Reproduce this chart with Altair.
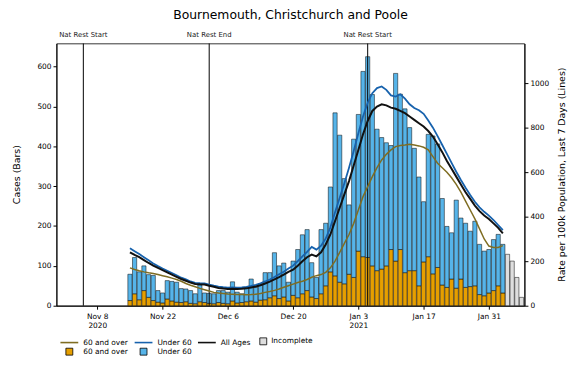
import altair as alt
import pandas as pd

# ---------------- data ----------------
FIRST_DAY = "2020-11-15"  # first bar; one value per day afterwards

CASES_TOTAL = [
    79, 121, 85, 100, 78, 76, 38, 32, 63, 61, 59, 43, 42, 38, 30, 52,          # Nov 15-30
    32, 31, 30, 38, 38, 34, 60, 34, 30, 46, 67, 46, 55, 83, 83, 133, 100, 107,  # Dec 1-18
    59, 112, 141, 178, 191, 108, 71, 191, 207, 298, 484, 428, 319,              # Dec 19-31
    253, 418, 480, 588, 625, 530, 443, 422, 409, 402, 583, 531, 494, 447, 395,  # Jan 1-15
    323, 261, 430, 426, 406, 269, 199, 183, 265, 220, 207, 187, 212, 154, 137,  # Jan 16-30
    141, 166, 179, 154,                                                          # Jan 31 - Feb 3
]
CASES_60_PLUS = [
    13, 30, 15, 38, 21, 13, 9, 7, 17, 12, 9, 8, 10, 6, 5, 10,
    8, 6, 5, 8, 6, 5, 12, 7, 8, 10, 12, 9, 14, 15, 20, 25, 18, 22,
    12, 26, 20, 30, 38, 22, 18, 30, 50, 85, 75, 59, 55,
    79, 71, 137, 123, 121, 100, 88, 92, 100, 141, 112, 141, 83, 88, 88,
    50, 110, 123, 80, 96, 52, 46, 67, 44, 67, 46, 48, 50, 28, 25,
    32, 38, 50, 32,
]
INCOMPLETE_DATES = ["2021-02-04", "2021-02-05", "2021-02-06", "2021-02-07"]
INCOMPLETE_CASES = [129, 112, 71, 21]

RATE_ALL = [
    240, 228, 218, 205, 192, 180, 170, 160, 150, 140, 130, 120, 112, 104, 98, 96,
    95, 90, 85, 80, 77, 75, 76, 75, 76, 78, 82, 86, 92, 100, 108, 118, 128, 140,
    152, 162, 180, 200, 218, 230, 222, 240, 275, 320, 380, 440, 500,
    560, 630, 700, 770, 830, 875, 895, 905, 900, 890, 885, 875, 865, 850, 835,
    820, 805, 785, 760, 725, 690, 650, 615, 580, 545, 510, 480, 450, 425, 405,
    390, 370, 350, 325,
]
RATE_UNDER_60 = [
    258, 245, 232, 218, 204, 190, 178, 167, 157, 147, 137, 126, 118, 109, 103, 101,
    100, 95, 90, 86, 83, 81, 82, 81, 82, 85, 89, 94, 101, 109, 118, 129, 141, 153,
    167, 180, 200, 222, 242, 264, 252, 270, 302, 352, 420, 485, 550,
    620, 695, 775, 850, 912, 955, 978, 985, 970, 945, 940, 950, 930, 905, 888,
    878, 862, 832, 800, 762, 722, 682, 642, 602, 565, 530, 497, 467, 442, 422,
    405, 385, 362, 340,
]
RATE_60_PLUS = [
    170, 163, 157, 152, 148, 145, 140, 135, 130, 124, 118, 110, 100, 92, 85, 78,
    72, 66, 60, 57, 55, 53, 52, 50, 50, 49, 50, 52, 55, 60, 64, 69, 75, 83,
    90, 97, 104, 110, 118, 128, 135, 140, 150, 170, 200, 240, 280,
    320, 370, 430, 490, 535, 580, 620, 655, 680, 700, 715, 720, 722, 725, 722,
    718, 712, 700, 670, 640, 620, 600, 575, 545, 510, 470, 430, 390, 345, 300,
    268, 262, 262, 270,
]

EVENT_DATES = ["2020-11-05", "2020-12-02", "2021-01-05"]
EVENT_LABELS = ["Nat Rest Start", "Nat Rest End", "Nat Rest Start"]
TICK_DATES = ["2020-11-08", "2020-11-22", "2020-12-06", "2020-12-20",
              "2021-01-03", "2021-01-17", "2021-01-31"]

# ---------------- helpers ----------------
def ms(s):
    return int(pd.Timestamp(s, tz="UTC").value // 10**6)

days = pd.date_range(FIRST_DAY, periods=len(CASES_TOTAL), freq="D").strftime("%Y-%m-%d").tolist()

bars_df = pd.DataFrame({"t": [ms(d) for d in days], "total": CASES_TOTAL, "over60": CASES_60_PLUS})
inc_df = pd.DataFrame({"t": [ms(d) for d in INCOMPLETE_DATES], "total": INCOMPLETE_CASES})
lines_df = pd.DataFrame({"t": [ms(d) for d in days], "all": RATE_ALL,
                         "under": RATE_UNDER_60, "over": RATE_60_PLUS})
events_df = pd.DataFrame({"t": [ms(d) for d in EVENT_DATES], "label": EVENT_LABELS})

FONT = "DejaVu Sans"
ORANGE = "#E69F00"
SKY = "#56B4E9"
HALF_BAR = 0.45 * 86400000

X_DOMAIN = [ms("2020-10-30 05:45"), ms("2021-02-07 15:20")]
xscale = alt.Scale(type="utc", domain=X_DOMAIN, nice=False)
label_expr = (
    "(utcFormat(datum.value, '%m-%d') == '11-08' || utcFormat(datum.value, '%m-%d') == '01-03')"
    " ? [utcFormat(datum.value, '%b %-d'), utcFormat(datum.value, '%Y')]"
    " : utcFormat(datum.value, '%b %-d')"
)
xaxis = alt.Axis(values=[ms(d) for d in TICK_DATES], labelExpr=label_expr, title=None,
                 tickSize=3.5, labelFontSize=7.5, labelPadding=3, grid=False,
                 labelOverlap=False, labelFlush=False, domainColor="black", tickColor="black")

yscale_left = alt.Scale(domain=[0, 658], nice=False, zero=True)
yscale_right = alt.Scale(domain=[0, 1178], nice=False, zero=True)
yaxis_left = alt.Axis(values=[0, 100, 200, 300, 400, 500, 600], title="Cases (Bars)", format="d",
                      tickSize=3.5, labelFontSize=7.5, labelPadding=2, grid=False,
                      titleFontSize=9.5, titleFontWeight="normal", titleX=-40, titleY=132,
                      titleAngle=270, titleAlign="center", titleBaseline="middle",
                      domainColor="black", tickColor="black")
yaxis_right = alt.Axis(orient="right", values=[0, 200, 400, 600, 800, 1000], format="d",
                       title="Rate per 100k Population, Last 7 Days (Lines)",
                       tickSize=3.5, labelFontSize=7.5, labelPadding=2, grid=False,
                       titleFontSize=9.5, titleFontWeight="normal", titleX=37, titleY=132,
                       titleAngle=270, titleAlign="center", titleBaseline="middle",
                       domainColor="black", tickColor="black")

bar_fill_scale = alt.Scale(domain=["60 and over", "Under 60"], range=[ORANGE, SKY])
bar_legend = alt.Legend(title=None, orient="none", legendX=9, legendY=307, direction="horizontal",
                        columns=2, symbolType="square", symbolSize=49, symbolStrokeColor="black",
                        symbolStrokeWidth=0.8, labelFontSize=7.5, labelOffset=10, columnPadding=9,
                        labelFont=FONT)

bar_base = alt.Chart(bars_df).transform_calculate(
    x0=f"datum.t - {HALF_BAR}", x1=f"datum.t + {HALF_BAR}", zero="0"
)
orange_bars = bar_base.transform_calculate(cat="'60 and over'").mark_bar(
    stroke="black", strokeWidth=0.5
).encode(
    x=alt.X("x0:T", scale=xscale, axis=xaxis),
    x2="x1:T",
    y=alt.Y("over60:Q", scale=yscale_left, axis=yaxis_left, stack=None),
    y2="zero:Q",
    fill=alt.Fill("cat:N", scale=bar_fill_scale, legend=bar_legend),
)
blue_bars = bar_base.transform_calculate(cat="'Under 60'").mark_bar(
    stroke="black", strokeWidth=0.5
).encode(
    x=alt.X("x0:T", scale=xscale, axis=xaxis),
    x2="x1:T",
    y=alt.Y("total:Q", scale=yscale_left, axis=yaxis_left, stack=None),
    y2="over60:Q",
    fill=alt.Fill("cat:N", scale=bar_fill_scale, legend=bar_legend),
)
bars = alt.layer(orange_bars, blue_bars)

inc_bars = alt.Chart(inc_df).transform_calculate(
    x0=f"datum.t - {HALF_BAR}", x1=f"datum.t + {HALF_BAR}", cat="'Incomplete'", zero="0"
).mark_bar(stroke="black", strokeWidth=0.5).encode(
    x=alt.X("x0:T", scale=xscale, axis=xaxis),
    x2="x1:T",
    y=alt.Y("total:Q", scale=yscale_left, axis=None, stack=None),
    y2="zero:Q",
    fill=alt.Fill("cat:N", scale=alt.Scale(domain=["Incomplete"], range=["#dedede"]),
                  legend=alt.Legend(title=None, orient="none", legendX=205, legendY=297,
                                    symbolType="square", symbolSize=49, symbolStrokeColor="black",
                                    symbolStrokeWidth=0.8, labelFontSize=7.5, labelOffset=4,
                                    labelFont=FONT)),
)

rules = alt.Chart(events_df).mark_rule(color="black", strokeWidth=1).encode(
    x=alt.X("t:T", scale=xscale, axis=xaxis)
)
texts = alt.Chart(events_df).mark_text(fontSize=7, font=FONT, color="#222", baseline="middle",
                                       align="center").encode(
    x=alt.X("t:T", scale=xscale, axis=xaxis), y=alt.value(-9), text="label:N"
)

line_scale = alt.Scale(domain=["60 and over", "Under 60", "All Ages"],
                       range=["#7f6d22", "#1762ad", "#111111"])
line_legend = alt.Legend(title=None, orient="none", legendX=3, legendY=292, direction="horizontal",
                         columns=3, symbolType="stroke", symbolSize=324, symbolStrokeWidth=1.6,
                         labelFontSize=7.5, labelOffset=4, columnPadding=2, labelFont=FONT)


def rate_line(field, name, width):
    return alt.Chart(lines_df).transform_calculate(series=f"'{name}'").mark_line(
        strokeWidth=width
    ).encode(
        x=alt.X("t:T", scale=xscale, axis=xaxis),
        y=alt.Y(f"{field}:Q", scale=yscale_right, axis=yaxis_right),
        stroke=alt.Stroke("series:N", scale=line_scale, legend=line_legend),
    )


lines = alt.layer(
    rate_line("over", "60 and over", 1.5),
    rate_line("under", "Under 60", 1.8),
    rate_line("all", "All Ages", 2.0),
)

chart = alt.layer(bars, inc_bars, rules, texts, lines).resolve_scale(
    y="independent", fill="independent"
).properties(
    width=473,
    height=265,
    autosize=alt.AutoSizeParams(type="none"),
    padding={"left": 49, "top": 34, "right": 45, "bottom": 56},
    title=alt.TitleParams("Bournemouth, Christchurch and Poole", fontSize=12.5, font=FONT,
                          fontWeight="normal", anchor="middle", color="black", offset=9),
).configure(font=FONT).configure_view(stroke="black", strokeWidth=0.8).configure_axis(
    labelFont=FONT, titleFont=FONT, labelColor="black", titleColor="black"
)

chart.save("out.html", embed_options={"renderer": "svg", "actions": False})
